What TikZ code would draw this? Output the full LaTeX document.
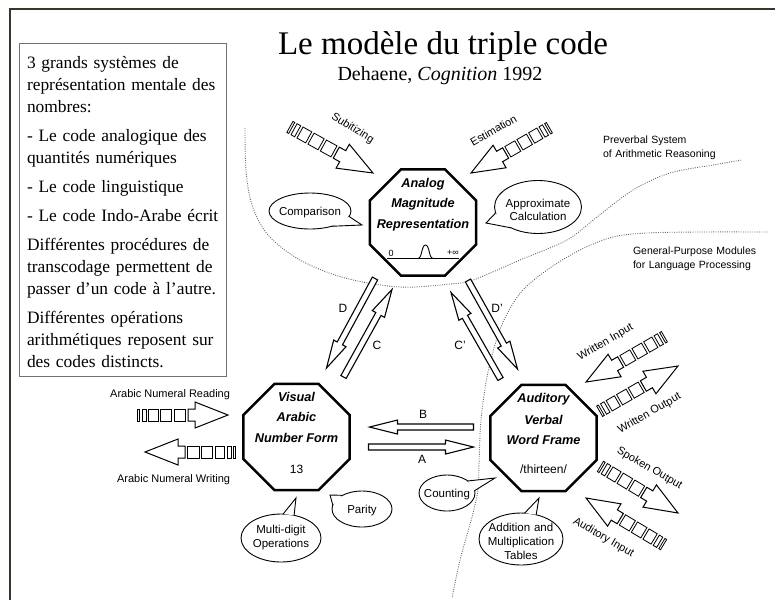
\documentclass[tikz,border=0pt]{standalone}
\usepackage{fontspec}
\setmainfont{Liberation Serif}
\setsansfont{Liberation Sans}
\usetikzlibrary{shapes.geometric,calc}
\definecolor{framecol}{RGB}{58,54,42}
\tikzset{
  every node/.style={inner sep=0pt, outer sep=0pt},
  octagon/.style={regular polygon, regular polygon sides=8, minimum size=115pt, draw, line width=2.4pt, fill=white},
  octtext/.style={font=\fontsize{12.7}{14}\selectfont\sffamily\bfseries\itshape, anchor=base},
  octnum/.style={font=\fontsize{12}{14}\selectfont\sffamily, anchor=base},
  bubble/.style={ellipse, draw, line width=0.9pt, fill=white},
  bubtext/.style={font=\fontsize{11.5}{14}\selectfont\sffamily, align=center, text width=90pt, anchor=base},
  tail/.style={line width=0.9pt},
  conn/.style={draw, line width=1.1pt, fill=white},
  connlabel/.style={font=\fontsize{12}{14}\selectfont\sffamily},
  tapetext/.style={font=\fontsize{11}{13}\selectfont\sffamily},
  boundary/.style={draw=black!60, line width=0.9pt, dash pattern=on 0.9pt off 1.4pt},
  areatext/.style={font=\fontsize{10.5}{14}\selectfont\sffamily, align=left, text width=140pt, anchor=base west},
  tapearrow/.pic={
    \draw[line width=1pt, fill=white] (0,0) -- (-33,13) -- (-33,6) -- (-40,6) -- (-40,-6) -- (-33,-6) -- (-33,-13) -- cycle;
    \draw[line width=0.8pt] (-54,-6) rectangle (-42.5,6) (-67.5,-6) rectangle (-56.5,6)
      (-79.5,-6) rectangle (-70,6) (-86,-6) rectangle (-82,6) (-90.5,-6) rectangle (-88.5,6);
  }
}
\newcommand\hollowconn[2]{%
  \coordinate (hcH) at ($(#2)!28pt!(#1)$);
  \draw[conn] (#2) -- ($(hcH)!7pt!90:(#2)$) -- ($(hcH)!3pt!90:(#2)$)
    -- ($(#1)!3pt!90:(#2)$) -- ($(#1)!3pt!-90:(#2)$)
    -- ($(hcH)!3pt!-90:(#2)$) -- ($(hcH)!7pt!-90:(#2)$) -- cycle;}
\begin{document}
\begin{tikzpicture}[x=1pt,y=-1pt]
\useasboundingbox (0,0) rectangle (775,600);
\fill[white] (0,0) rectangle (775,600);
\draw[framecol, line width=2.4pt] (775,9) -- (10,9) -- (10,600);

% boundaries
\draw[boundary] plot[smooth, tension=0.55] coordinates {(245,128) (246,170) (252,205) (268,235) (300,260) (345,278) (400,287) (450,284) (473,280) (520,260) (567,240) (597,217) (633,190) (670,173) (713,165) (742,160)};
\draw[boundary] plot[smooth, tension=0.55] coordinates {(767,232) (700,232) (647,233) (613,237) (580,250) (547,270) (523,290) (508,312) (497,338) (487,377) (481,420) (479,463) (478,490) (472,517) (460,560) (452,598)};

% title
\node[font=\fontsize{33}{36}\selectfont, anchor=base] (title) at (443,54) {Le modèle du triple code};
\node[font=\fontsize{20}{22}\selectfont, anchor=base] (sub) at (440,80) {Dehaene, \textit{Cognition} 1992};

% text box
\node[draw=black!55, line width=0.8pt, minimum width=207pt, minimum height=333pt, anchor=north west] (textbox) at (19,43) {};
\node[anchor=base west, text width=205pt, align=left, font=\fontsize{17.4}{22}\selectfont] (boxtext) at (27,68) {3 grands systèmes de\\
représentation mentale des\\
nombres:\\[7pt]
- Le code analogique des\\
quantités numériques\\[7pt]
- Le code linguistique\\[7pt]
- Le code Indo-Arabe écrit\\[7pt]
Différentes procédures de\\
transcodage permettent de\\
passer d’un code à l’autre.\\[7pt]
Différentes opérations\\
arithmétiques reposent sur\\
des codes distincts.};

% area labels
\node[areatext] (pre) at (603,143) {Preverbal System\\of Arithmetic Reasoning};
\node[areatext] (gen) at (633,254) {General-Purpose Modules\\for Language Processing};

% octagons
\node[octagon] (an) at (423,222.5) {};
\node[octagon] (vis) at (296.5,437) {};
\node[octagon] (aud) at (543.5,438) {};

\node[octtext] (an1) at (423,187.5) {Analog};
\node[octtext] (an2) at (423,207.5) {Magnitude};
\node[octtext] (an3) at (423,228.5) {Representation};
\draw[line width=0.9pt] ($(an)+(-36,35.5)$) -- ($(an)+(36,35.5)$);
\draw[line width=0.9pt] ($(an)+(-4.5,35.5)$) .. controls ($(an)+(-1,35.5)$) and ($(an)+(-1.5,22.5)$) .. ($(an)+(2.5,22.5)$) .. controls ($(an)+(6.5,22.5)$) and ($(an)+(6,35.5)$) .. ($(an)+(9.5,35.5)$);
\node[font=\fontsize{9}{10}\selectfont\sffamily] (zero) at ($(an)+(-32,30.5)$) {0};
\node[font=\fontsize{9}{10}\selectfont\sffamily] (inf) at ($(an)+(30,30.5)$) {+∞};

\node[octtext] (vis1) at (296.5,401.5) {Visual};
\node[octtext] (vis2) at (296.5,421.5) {Arabic};
\node[octtext] (vis3) at (296.5,442.5) {Number Form};
\node[octnum] (vis4) at (296.5,473.5) {13};

\node[octtext] (aud1) at (543.5,402.5) {Auditory};
\node[octtext] (aud2) at (543.5,424) {Verbal};
\node[octtext] (aud3) at (543.5,444.5) {Word Frame};
\node[octnum] (aud4) at (543.5,473.5) {/thirteen/};

% hollow connectors
\coordinate (Ds) at ($(an)+(-48,56)$);   \coordinate (De) at ($(vis)+(30,-69)$);
\coordinate (Cs) at ($(vis)+(47,-60)$);  \coordinate (Ce) at ($(an)+(-31,67)$);
\coordinate (C2s) at ($(aud)+(-43,-59)$); \coordinate (C2e) at ($(an)+(28,70)$);
\coordinate (D2s) at ($(an)+(45,58)$);   \coordinate (D2e) at ($(aud)+(-26,-69)$);
\coordinate (Bs) at ($(aud)+(-70,-11)$); \coordinate (Be) at ($(vis)+(73,-10)$);
\coordinate (As) at ($(vis)+(72,10)$);   \coordinate (Ae) at ($(aud)+(-70,9)$);
\hollowconn{Ds}{De}
\hollowconn{Cs}{Ce}
\hollowconn{C2s}{C2e}
\hollowconn{D2s}{D2e}
\hollowconn{Bs}{Be}
\hollowconn{As}{Ae}
\node[connlabel] (lD) at (343,308) {D};
\node[connlabel] (lC) at (377,345) {C};
\node[connlabel] (lC2) at (460,345) {C'};
\node[connlabel] (lD2) at (497,308) {D'};
\node[connlabel] (lB) at (423,414) {B};
\node[connlabel] (lA) at (422,459) {A};

% bubbles
\node[bubble, minimum width=82pt, minimum height=36pt] (cmp) at (310,211) {};
\coordinate (cmpT) at (362,225);
\fill[white] (cmp.-8) -- (cmpT) -- (cmp.-35) -- cycle;
\draw[tail] (cmp.-8) -- (cmpT) -- (cmp.-35);
\node[bubtext] (cmpL) at (310,215) {Comparison};

\node[bubble, minimum width=87pt, minimum height=53pt] (apx) at (538,207) {};
\coordinate (apxT) at (486,223);
\fill[white] (apx.188) -- (apxT) -- (apx.218) -- cycle;
\draw[tail] (apx.188) -- (apxT) -- (apx.218);
\node[bubtext, font=\fontsize{11.5}{13}\selectfont\sffamily] (apxL) at (538,207) {Approximate\\Calculation};

\node[bubble, minimum width=60pt, minimum height=36pt] (par) at (362,509) {};
\coordinate (parT) at (330,495);
\fill[white] (par.145) -- (parT) -- (par.172) -- cycle;
\draw[tail] (par.145) -- (parT) -- (par.172);
\node[bubtext] (parL) at (362,513) {Parity};

\node[bubble, minimum width=80pt, minimum height=48pt] (mdo) at (281,538) {};
\coordinate (mdoT) at (296,498);
\fill[white] (mdo.60) -- (mdoT) -- (mdo.85) -- cycle;
\draw[tail] (mdo.60) -- (mdoT) -- (mdo.85);
\node[bubtext] (mdoL) at (281,533) {Multi-digit\\Operations};

\node[bubble, minimum width=56pt, minimum height=36pt] (cnt) at (447,493) {};
\coordinate (cntT) at (495,478);
\fill[white] (cnt.5) -- (cntT) -- (cnt.30) -- cycle;
\draw[tail] (cnt.5) -- (cntT) -- (cnt.30);
\node[bubtext] (cntL) at (447,497) {Counting};

\node[bubble, minimum width=84pt, minimum height=52pt] (add) at (521,539) {};
\coordinate (addT) at (539,498);
\fill[white] (add.58) -- (addT) -- (add.82) -- cycle;
\draw[tail] (add.58) -- (addT) -- (add.82);
\node[bubtext] (addL) at (521,531) {Addition and\\Multiplication\\Tables};

% tape arrows
\coordinate (rdT) at (228,415);
\coordinate (wrT) at (145,452);
\coordinate (subT) at (373,173);
\coordinate (estT) at (471,173);
\coordinate (wiT) at (586,382);
\coordinate (woT) at (678,366);
\coordinate (soT) at (678,513);
\coordinate (aiT) at (586,498);
\pic (rd) at (rdT) {tapearrow};
\pic[rotate=180] (wr) at (wrT) {tapearrow};
\pic[rotate=-29, scale=1.05] (sb) at (subT) {tapearrow};
\pic[rotate=210] (es) at (estT) {tapearrow};
\pic[rotate=210] (wi) at (wiT) {tapearrow};
\pic[rotate=30] (wo) at (woT) {tapearrow};
\pic[rotate=-31] (so) at (soT) {tapearrow};
\pic[rotate=149] (ai) at (aiT) {tapearrow};

\node[tapetext, anchor=base east] (rdL) at (230,397) {Arabic Numeral Reading};
\node[tapetext, anchor=base east] (wrL) at (230,482) {Arabic Numeral Writing};
\node[tapetext, rotate=-32] (sbL) at (352.5,128.4) {Subitizing};
\node[tapetext, rotate=30] (esL) at (493.5,130.4) {Estimation};
\node[tapetext, rotate=30] (wiL) at (605.5,342.4) {Written Input};
\node[tapetext, rotate=30] (woL) at (649.5,413.6) {Written Output};
\node[tapetext, rotate=-30] (soL) at (649.5,468.4) {Spoken Output};
\node[tapetext, rotate=-30] (aiL) at (603.5,537.6) {Auditory Input};
\end{tikzpicture}
\end{document}
